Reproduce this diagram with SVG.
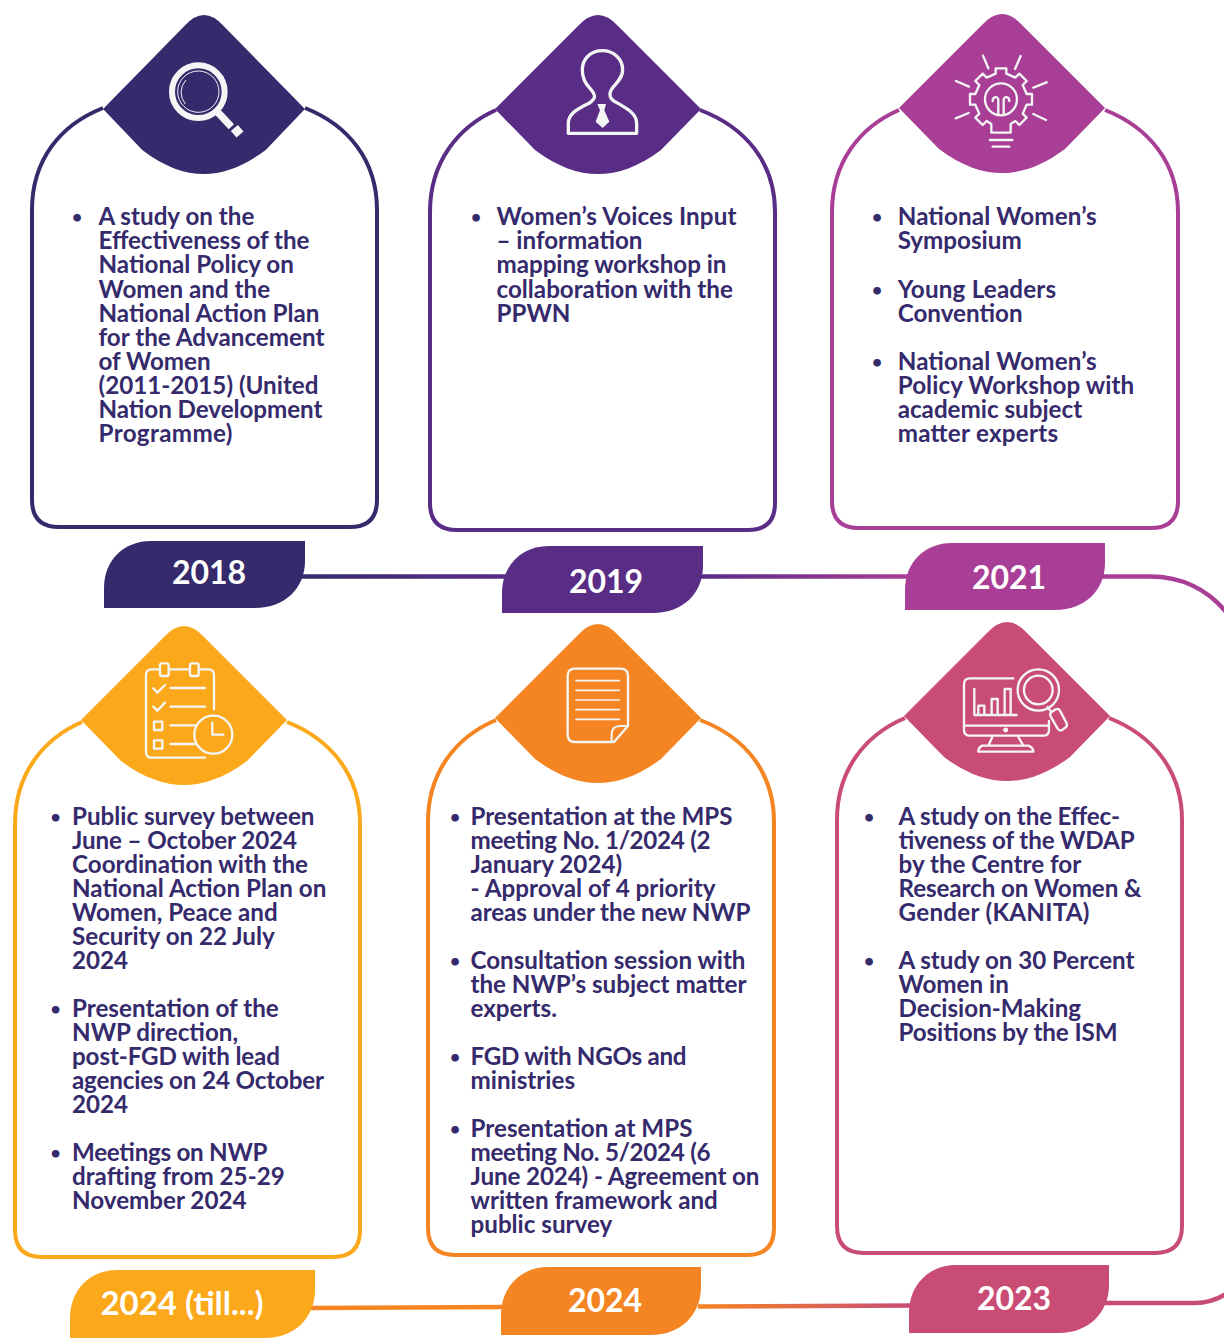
<svg xmlns="http://www.w3.org/2000/svg" width="1224" height="1344" viewBox="0 0 1224 1344">
<style>
text{font-family:"Lato","Liberation Sans",sans-serif}
.b{font-size:24.2px;font-weight:700;fill:#352a6b}
.d{font-size:17.5px;font-weight:700;fill:#352a6b}
.y{font-size:32px;font-weight:700;fill:#fff;text-anchor:middle}
.card{fill:#fff;stroke-width:4}
.ic{fill:none;stroke:#f4f6f6;stroke-width:7;stroke-linecap:round;stroke-linejoin:round}
.conn{fill:none;stroke-width:4.500}
</style>
<defs>
<path id="dia" d="M-103,94L-20,11Q0,-11 20,11L103,94L63,135C40,152 20,159 0,159C-20,159 -40,152 -63,135Z"/>
<linearGradient id="g1" gradientUnits="userSpaceOnUse" x1="300" y1="0" x2="505" y2="0"><stop offset="0" stop-color="#352a6b"/><stop offset="1" stop-color="#592c85"/></linearGradient>
<linearGradient id="g2" gradientUnits="userSpaceOnUse" x1="700" y1="0" x2="908" y2="0"><stop offset="0" stop-color="#592c85"/><stop offset="1" stop-color="#a83e95"/></linearGradient>
<linearGradient id="g3" gradientUnits="userSpaceOnUse" x1="698" y1="0" x2="912" y2="0"><stop offset="0" stop-color="#f58522"/><stop offset="1" stop-color="#c94c75"/></linearGradient>
</defs>
<g id="connectors">
<path class="conn" stroke="url(#g1)" d="M300,576.500H510"/>
<path class="conn" stroke="url(#g2)" d="M700,576.500H910"/>
<path class="conn" stroke="#a83e95" d="M1100,576.500H1150C1182,576.500 1208,590 1226,612"/>
<path class="conn" stroke="#c94c75" d="M1105,1303H1195C1208,1303 1218,1299 1226,1294"/>
<path class="conn" stroke="#f58522" d="M310,1308L505,1307"/>
<path class="conn" stroke="url(#g3)" d="M698,1306.500L915,1305.500"/>
</g>

<g id="card-2018">
<path class="card" stroke="#352a6b" d="M103,108C60,125 32,160 32,210V500Q32,527 59,527H350Q377,527 377,500V210C377,160 348,125 305,108"/>
<use href="#dia" transform="translate(204 15) scale(.98 1)" fill="#352a6b"/>
<g transform="translate(90,0) scale(.3333)" fill="none" stroke="#f4f6f6">
<circle cx="325" cy="275" r="79" stroke-width="18"/>
<circle cx="325" cy="275" r="62" stroke-width="3"/>
<path d="M286,312A54,54 0 0 1 288,240" stroke-width="3"/>
<path d="M382,335L424,380" stroke-width="22"/>
<path d="M431,403L452,385" stroke-width="26"/>
</g>
<text class="d" x="72" y="222.700">•</text>
<text class="b"><tspan x="98.500" y="225">A study on the</tspan><tspan x="98.500" y="249" textLength="211">Effectiveness of the</tspan><tspan x="98.500" y="273">National Policy on</tspan><tspan x="98.500" y="298">Women and the</tspan><tspan x="98.500" y="322">National Action Plan</tspan><tspan x="98.500" y="346">for the Advancement</tspan><tspan x="98.500" y="370">of Women</tspan><tspan x="98.500" y="394">(2011-2015) (United</tspan><tspan x="98.500" y="418" textLength="224">Nation Development</tspan><tspan x="98.500" y="442" textLength="134">Programme)</tspan></text>
<path fill="#352a6b" d="M104,608V588C104,560 124,541 151,541H305V561C305,588 285,608 255,608Z"/>
<text class="y" x="209" y="584">2018</text>
</g>

<g id="card-2019">
<path class="card" stroke="#592c85" d="M496,110C458,127 430,162 430,212V503Q430,530 457,530H748Q775,530 775,503V212C775,162 745,127 700,110"/>
<use href="#dia" x="598" y="15" fill="#592c85"/>
<g transform="translate(490,0) scale(.3333)" fill="none" stroke="#f4f6f6" stroke-width="10" stroke-linejoin="round">
<path d="M235,400H440V370C440,340 410,325 375,305C355,295 355,275 375,255C392,235 398,225 398,210C398,175 370,152 337,152C303,152 277,175 277,210C277,230 285,250 300,265C318,285 318,295 300,308C265,325 235,340 235,370Z"/>
<path fill="#f4f6f6" stroke="none" d="M322,312L348,312L343,331L358,365L338,384L317,365L330,331Z"/>
</g>
<text class="d" x="471" y="222.700">•</text>
<text class="b"><tspan x="496.500" y="225" textLength="240">Women’s Voices Input</tspan><tspan x="496.500" y="249" textLength="146">– information</tspan><tspan x="496.500" y="273" textLength="230">mapping workshop in</tspan><tspan x="496.500" y="298">collaboration with the</tspan><tspan x="496.500" y="322">PPWN</tspan></text>
<path fill="#592c85" d="M502,613V593C502,565 522,546 549,546H703V566C703,593 683,613 653,613Z"/>
<text class="y" x="606" y="593">2019</text>
</g>

<g id="card-2021">
<path class="card" stroke="#a83e95" d="M899,110C860,127 832,162 832,212V501Q832,528 859,528H1151Q1178,528 1178,501V212C1178,162 1148,127 1105,110"/>
<use href="#dia" x="1002" y="14" fill="#a83e95"/>
<g transform="translate(890,0) scale(.3333)" class="ic">
<path d="M304,398V372L290,363L278,375L256,353L268,341L256,314H240V282H256L268,255L256,243L278,221L290,233L317,221V205H349V221L376,233L388,221L410,243L398,255L410,282H426V314H410L398,341L410,353L388,375L376,363L362,372V398Z"/>
<circle cx="333" cy="298" r="48"/>
<path d="M325,342V300C325,288 308,288 308,303M341,342V300C341,288 358,288 358,303"/>
<path d="M300,420H367M308,440H358M279,167L295,205M392,168L375,207M198,243L237,260M470,247L430,263M197,355L236,339M468,360L430,342"/>
</g>
<text class="d" x="872" y="222.700">•</text>
<text class="b"><tspan x="897.700" y="225" textLength="199">National Women’s</tspan><tspan x="897.700" y="249">Symposium</tspan></text>
<text class="d" x="872" y="295.700">•</text>
<text class="b"><tspan x="897.700" y="298" textLength="158.500">Young Leaders</tspan><tspan x="897.700" y="322">Convention</tspan></text>
<text class="d" x="872" y="367.700">•</text>
<text class="b"><tspan x="897.700" y="370" textLength="199">National Women’s</tspan><tspan x="897.700" y="394" textLength="236.500">Policy Workshop with</tspan><tspan x="897.700" y="418">academic subject</tspan><tspan x="897.700" y="442" textLength="160.500">matter experts</tspan></text>
<path fill="#a83e95" d="M905,610V590C905,562 925,543 952,543H1105V563C1105,590 1085,610 1055,610Z"/>
<text class="y" x="1009" y="589">2021</text>
</g>

<g id="card-2024-till">
<path class="card" stroke="#fba81b" d="M82,722C43,739 15,774 15,824V1230Q15,1257 42,1257H333Q360,1257 360,1230V824C360,774 330,739 287,722"/>
<use href="#dia" x="184" y="626" fill="#fba81b"/>
<g transform="translate(70,620) scale(.3333)" class="ic">
<path d="M405,413H245Q228,413 228,396V165Q228,148 245,148H268M298,148H358M388,148H415Q432,148 432,165V268"/>
<rect x="270" y="130" width="26" height="38" rx="6"/><rect x="360" y="130" width="26" height="38" rx="6"/>
<path d="M250,205L262,218L285,195M250,260L262,272L285,248M302,204H405M302,260H405M302,316H378M302,372H378"/>
<rect x="252" y="305" width="25" height="25"/><rect x="252" y="361" width="25" height="25"/>
<circle cx="430" cy="344" r="57"/>
<path d="M427,307V344H460"/>
</g>
<text class="d" x="50.500" y="822.700">•</text>
<text class="b"><tspan x="72" y="825">Public survey between</tspan><tspan x="72" y="849" textLength="225">June – October 2024</tspan><tspan x="72" y="873">Coordination with the</tspan><tspan x="72" y="897">National Action Plan on</tspan><tspan x="72" y="921">Women, Peace and</tspan><tspan x="72" y="945">Security on 22 July</tspan><tspan x="72" y="969">2024</tspan></text>
<text class="d" x="50.500" y="1014.700">•</text>
<text class="b"><tspan x="72" y="1017">Presentation of the</tspan><tspan x="72" y="1041">NWP direction,</tspan><tspan x="72" y="1065" textLength="208">post-FGD with lead</tspan><tspan x="72" y="1089" textLength="252">agencies on 24 October</tspan><tspan x="72" y="1113">2024</tspan></text>
<text class="d" x="50.500" y="1158.700">•</text>
<text class="b"><tspan x="72" y="1161" textLength="195.500">Meetings on NWP</tspan><tspan x="72" y="1185">drafting from 25-29</tspan><tspan x="72" y="1209">November 2024</tspan></text>
<path fill="#fba81b" d="M70,1338V1318C70,1290 90,1270 117,1270H315V1290C315,1317 295,1338 265,1338Z"/>
<text class="y" x="182" y="1315" style="font-size:33px">2024 (till...)</text>
</g>

<g id="card-2024">
<path class="card" stroke="#f58522" d="M496,720C456,737 428,772 428,822V1228Q428,1255 455,1255H747Q774,1255 774,1228V822C774,772 745,737 700,720"/>
<use href="#dia" x="598" y="624" fill="#f58522"/>
<g transform="translate(490,620) scale(.3333)" class="ic">
<path d="M372,366H255Q233,366 233,344V168Q233,146 255,146H392Q414,146 414,168V318Z"/>
<path d="M414,318H390Q365,318 365,345V366" stroke-width="6"/>
<path stroke-width="5" d="M258,182H388M258,211H388M258,240H388M258,269H388M258,298H388"/>
</g>
<text class="d" x="450" y="822.700">•</text>
<text class="b"><tspan x="470.500" y="825" textLength="262">Presentation at the MPS</tspan><tspan x="470.500" y="849" textLength="240">meeting No. 1/2024 (2</tspan><tspan x="470.500" y="873">January 2024)</tspan><tspan x="470.500" y="897" textLength="245">- Approval of 4 priority</tspan><tspan x="470.500" y="921" textLength="280">areas under the new NWP</tspan></text>
<text class="d" x="450" y="966.700">•</text>
<text class="b"><tspan x="470.500" y="969" textLength="275">Consultation session with</tspan><tspan x="470.500" y="993" textLength="276">the NWP’s subject matter</tspan><tspan x="470.500" y="1017">experts.</tspan></text>
<text class="d" x="450" y="1062.700">•</text>
<text class="b"><tspan x="470.500" y="1065" textLength="216">FGD with NGOs and</tspan><tspan x="470.500" y="1089">ministries</tspan></text>
<text class="d" x="450" y="1134.700">•</text>
<text class="b"><tspan x="470.500" y="1137" textLength="222">Presentation at MPS</tspan><tspan x="470.500" y="1161" textLength="240">meeting No. 5/2024 (6</tspan><tspan x="470.500" y="1185" textLength="289">June 2024) - Agreement on</tspan><tspan x="470.500" y="1209">written framework and</tspan><tspan x="470.500" y="1233">public survey</tspan></text>
<path fill="#f58522" d="M501,1335V1315C501,1287 521,1267 548,1267H701V1287C701,1314 681,1335 651,1335Z"/>
<text class="y" x="605" y="1312">2024</text>
</g>

<g id="card-2023">
<path class="card" stroke="#c94c75" d="M905,718C865,735 837,770 837,820V1226Q837,1253 864,1253H1155Q1182,1253 1182,1226V820C1182,770 1152,735 1109,718"/>
<use href="#dia" x="1007" y="622" fill="#c94c75"/>
<g transform="translate(895,615) scale(.3333)" class="ic">
<path d="M355,190H225Q207,190 207,208V345Q207,362 225,362H445Q462,362 462,345V318M207,332H462"/>
<path d="M238,222V300H365M250,300V272H268V300M290,300V252H308V300M329,300V222H347V300"/>
<circle cx="332" cy="345" r="4"/>
<path d="M292,366L280,392M370,366L385,392M262,392H400Q415,398 415,410H250Q250,398 262,392Z"/>
<circle cx="430" cy="225" r="62"/><circle cx="430" cy="225" r="43"/>
<path d="M458,276L468,290M469,292L482,283Q490,279 495,287L515,325Q518,333 511,338L501,345Q494,349 488,341L467,304Q463,296 469,292Z"/>
</g>
<text class="d" x="864" y="822.700">•</text>
<text class="b"><tspan x="898.500" y="825" textLength="221.500">A study on the Effec-</tspan><tspan x="898.500" y="849" textLength="236">tiveness of the WDAP</tspan><tspan x="898.500" y="873">by the Centre for</tspan><tspan x="898.500" y="897" textLength="243">Research on Women &amp;</tspan><tspan x="898.500" y="921" textLength="191">Gender (KANITA)</tspan></text>
<text class="d" x="864" y="966.700">•</text>
<text class="b"><tspan x="898.500" y="969" textLength="236">A study on 30 Percent</tspan><tspan x="898.500" y="993">Women in</tspan><tspan x="898.500" y="1017">Decision-Making</tspan><tspan x="898.500" y="1041" textLength="219">Positions by the ISM</tspan></text>
<path fill="#c94c75" d="M909,1333V1313C909,1285 929,1265 956,1265H1109V1285C1109,1312 1089,1333 1059,1333Z"/>
<text class="y" x="1014" y="1310">2023</text>
</g>
</svg>
